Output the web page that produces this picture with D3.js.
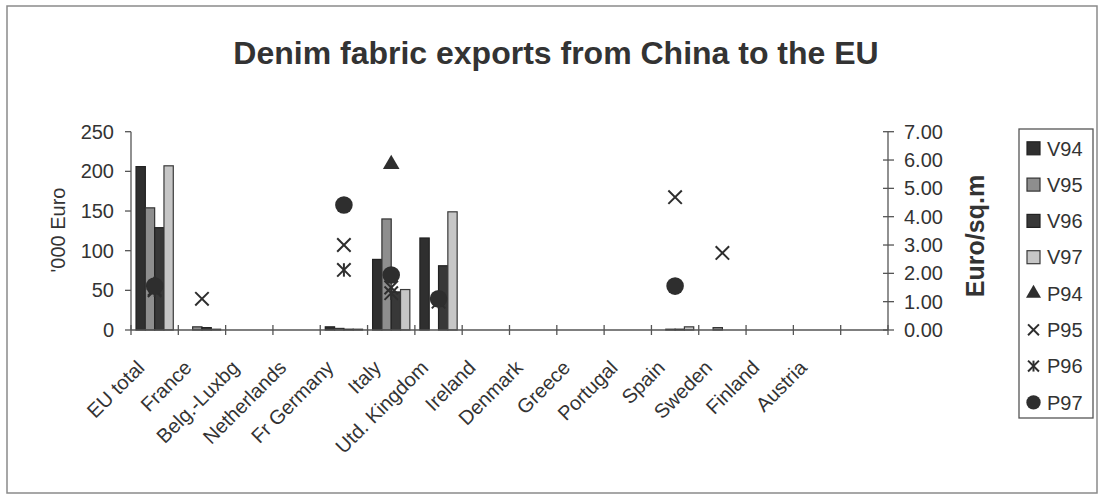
<!DOCTYPE html>
<html lang="en">
<head>
<meta charset="utf-8">
<style type="text/css">
    body { margin: 0; background: #fff; }
    text { font-family: "Liberation Sans", Arial, sans-serif; fill: #333; }
</style>
</head>
<body>
<script src="https://d3js.org/d3.v7.min.js"></script>
<script type="text/javascript">
    // chart data
    var categories = ["EU total", "France", "Belg.-Luxbg", "Netherlands", "Fr Germany", "Italy",
        "Utd. Kingdom", "Ireland", "Denmark", "Greece", "Portugal", "Spain", "Sweden", "Finland", "Austria", ""];
    // export value, '000 Euro
    var v94 = [206, 0, 0, 0, 4, 89, 116, 0, 0, 0, 0, 0, 0, 0, 0, 0];
    var v95 = [154, 4, 0, 0, 2, 140, 0, 0, 0, 0, 0, 1, 3, 0, 0, 0];
    var v96 = [129, 3, 0, 0, 1, 48, 81, 0, 0, 0, 0, 1, 0, 0, 0, 0];
    var v97 = [207, 1, 0, 0, 1, 51, 149, 0, 0, 0, 0, 4, 0, 0, 0, 0];
    // price, Euro/sq.m (null = no point)
    var p94 = [1.6, null, null, null, null, 5.85, null, null, null, null, null, null, null, null, null, null];
    var p95 = [1.45, 1.1, null, null, 3.0, 1.5, null, null, null, null, null, 4.69, 2.72, null, null, null];
    var p96 = [1.4, null, null, null, 2.12, 1.3, 1.0, null, null, null, null, null, null, null, null, null];
    var p97 = [1.55, null, null, null, 4.41, 1.94, 1.1, null, null, null, null, 1.55, null, null, null, null];
    var leftTicks = [0, 50, 100, 150, 200, 250];
    var rightTicks = [0, 1, 2, 3, 4, 5, 6, 7];

    var barSeries = [
        {name: "V94", values: v94, fill: "#2f2f2f", stroke: "#222"},
        {name: "V95", values: v95, fill: "#8e8e8e", stroke: "#333"},
        {name: "V96", values: v96, fill: "#383838", stroke: "#222"},
        {name: "V97", values: v97, fill: "#c6c6c6", stroke: "#3a3a3a"}
    ];
    var pointSeries = [
        {name: "P94", values: p94, shape: "triangle"},
        {name: "P95", values: p95, shape: "cross"},
        {name: "P96", values: p96, shape: "star"},
        {name: "P97", values: p97, shape: "circle"}
    ];

    var width = 1102, height = 495;
    var plot = {left: 131, right: 888, top: 131.7, bottom: 330};

    var svg = d3.select("body").append("svg")
        .attr("width", width)
        .attr("height", height);

    svg.append("rect")
        .attr("x", 7).attr("y", 6)
        .attr("width", 1090).attr("height", 487)
        .attr("fill", "white")
        .attr("stroke", "#8a8a8a")
        .attr("stroke-width", 1.5);

    var x = d3.scaleBand().domain(categories.map(function (d, i) { return i; }))
        .range([plot.left, plot.right]).padding(0);
    var xInner = d3.scaleBand().domain(barSeries.map(function (s) { return s.name; }))
        .range([0, x.bandwidth()]).paddingInner(0).paddingOuter(0.54);
    var yL = d3.scaleLinear().domain([0, 250]).range([plot.bottom, plot.top]);
    var yR = d3.scaleLinear().domain([0, 7]).range([plot.bottom, plot.top]);

    // title
    svg.append("text")
        .attr("x", 556).attr("y", 64)
        .attr("text-anchor", "middle")
        .attr("font-size", 32).attr("font-weight", "bold")
        .text("Denim fabric exports from China to the EU");

    // bars
    barSeries.forEach(function (s) {
        svg.append("g").selectAll("rect")
            .data(s.values)
            .enter().append("rect")
            .attr("x", function (d, i) { return x(i) + xInner(s.name); })
            .attr("y", function (d) { return yL(d); })
            .attr("width", xInner.bandwidth())
            .attr("height", function (d) { return plot.bottom - yL(d); })
            .attr("fill", s.fill)
            .attr("stroke", s.stroke)
            .attr("stroke-width", function (d) { return d > 0 ? 1.2 : 0; });
    });

    // axes
    var axisColor = "#555";
    var axes = svg.append("g").attr("stroke", axisColor).attr("stroke-width", 1.3);
    axes.append("line").attr("x1", plot.left).attr("x2", plot.left).attr("y1", plot.top).attr("y2", plot.bottom);
    axes.append("line").attr("x1", plot.right).attr("x2", plot.right).attr("y1", plot.top).attr("y2", plot.bottom);
    axes.append("line").attr("x1", plot.left).attr("x2", plot.right).attr("y1", plot.bottom).attr("y2", plot.bottom);

    axes.selectAll(".lt").data(leftTicks).enter().append("line")
        .attr("x1", plot.left - 6).attr("x2", plot.left)
        .attr("y1", function (d) { return yL(d); }).attr("y2", function (d) { return yL(d); });
    axes.selectAll(".rt").data(rightTicks).enter().append("line")
        .attr("x1", plot.right - 5).attr("x2", plot.right + 6)
        .attr("y1", function (d) { return yR(d); }).attr("y2", function (d) { return yR(d); });
    axes.selectAll(".xt").data(d3.range(categories.length + 1)).enter().append("line")
        .attr("x1", function (d) { return plot.left + d * x.step(); })
        .attr("x2", function (d) { return plot.left + d * x.step(); })
        .attr("y1", plot.bottom - 5).attr("y2", plot.bottom + 5);

    svg.selectAll(".ltl").data(leftTicks).enter().append("text")
        .attr("x", 114).attr("y", function (d) { return yL(d); })
        .attr("dy", "0.35em").attr("text-anchor", "end")
        .attr("font-size", 20)
        .text(function (d) { return d; });
    svg.selectAll(".rtl").data(rightTicks).enter().append("text")
        .attr("x", 904).attr("y", function (d) { return yR(d); })
        .attr("dy", "0.35em")
        .attr("font-size", 20)
        .text(function (d) { return d3.format(".2f")(d); });

    svg.selectAll(".xl").data(categories).enter().append("text")
        .attr("transform", function (d, i) {
            return "translate(" + (x(i) + x.bandwidth() / 2 - 9) + "," + 369 + ") rotate(-45)";
        })
        .attr("text-anchor", "end")
        .attr("font-size", 20)
        .text(function (d) { return d; });

    svg.append("text")
        .attr("transform", "translate(65,230) rotate(-90)")
        .attr("text-anchor", "middle")
        .attr("font-size", 20)
        .text("'000 Euro");
    svg.append("text")
        .attr("transform", "translate(984,236) rotate(-90)")
        .attr("text-anchor", "middle")
        .attr("font-size", 25).attr("font-weight", "bold")
        .text("Euro/sq.m");

    // point markers
    function drawMarker(g, shape, size) {
        var c = "#2e2e2e";
        if (shape === "triangle") {
            g.append("path").attr("d", d3.symbol().type(d3.symbolTriangle).size(size * 7.5)).attr("fill", c);
        } else if (shape === "circle") {
            g.append("circle").attr("r", size * 0.55).attr("fill", c);
        } else {
            var h = size * 0.42;
            g.append("path").attr("d", "M" + (-h) + "," + (-h) + "L" + h + "," + h + "M" + (-h) + "," + h + "L" + h + "," + (-h))
                .attr("stroke", c).attr("stroke-width", 2).attr("fill", "none");
            if (shape === "star") {
                g.append("path").attr("d", "M0," + (-h) + "L0," + h)
                    .attr("stroke", c).attr("stroke-width", 2).attr("fill", "none");
            }
        }
    }

    pointSeries.forEach(function (s) {
        s.values.forEach(function (v, i) {
            if (v === null) return;
            var g = svg.append("g")
                .attr("transform", "translate(" + (x(i) + x.bandwidth() / 2) + "," + yR(v) + ")");
            drawMarker(g, s.shape, 16);
        });
    });

    // legend
    var legend = svg.append("g");
    legend.append("rect")
        .attr("x", 1019).attr("y", 129).attr("width", 74).attr("height", 289)
        .attr("fill", "white").attr("stroke", "#555").attr("stroke-width", 1.3);
    var rowY = function (i) { return 148.3 + i * 36.3; };
    barSeries.forEach(function (s, i) {
        legend.append("rect")
            .attr("x", 1027).attr("y", rowY(i) - 6.5)
            .attr("width", 13).attr("height", 13)
            .attr("fill", s.fill).attr("stroke", s.stroke).attr("stroke-width", 1.2);
        legend.append("text")
            .attr("x", 1047).attr("y", rowY(i)).attr("dy", "0.36em")
            .attr("font-size", 20).text(s.name);
    });
    pointSeries.forEach(function (s, j) {
        var i = j + 4;
        var g = legend.append("g").attr("transform", "translate(1033.5," + rowY(i) + ")");
        drawMarker(g, s.shape, 13);
        legend.append("text")
            .attr("x", 1047).attr("y", rowY(i)).attr("dy", "0.36em")
            .attr("font-size", 20).text(s.name);
    });
</script>
</body>
</html>
